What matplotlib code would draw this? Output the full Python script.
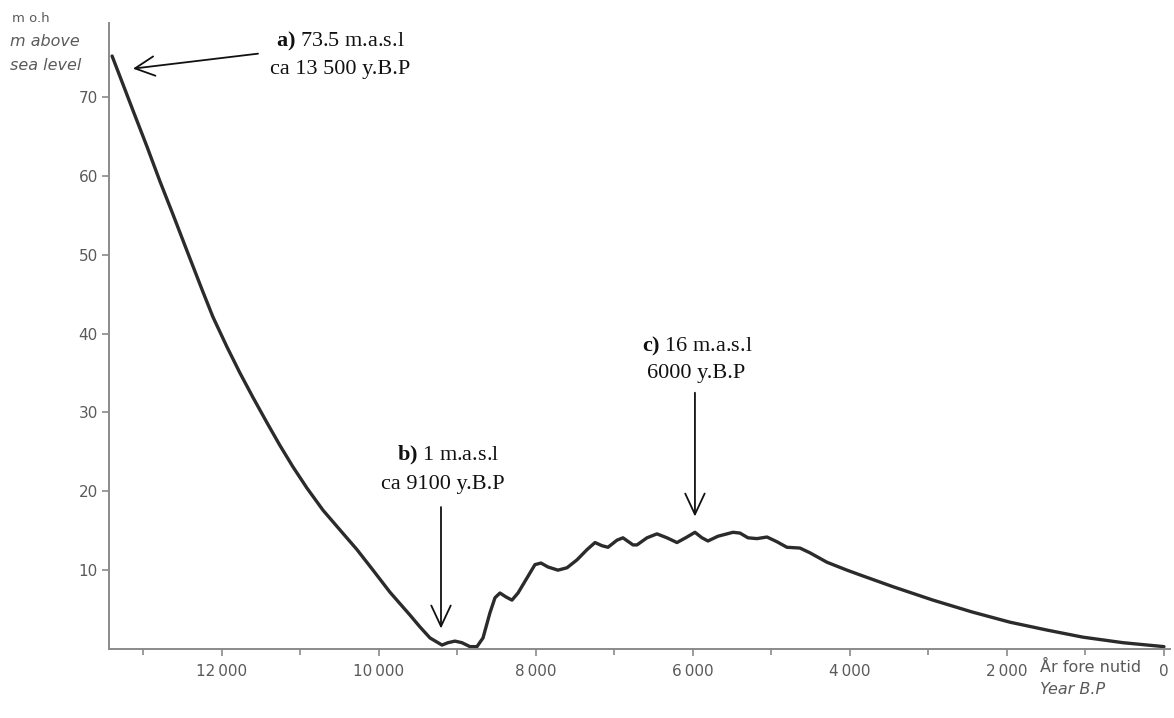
import numpy as np
import matplotlib
matplotlib.use("Agg")
import matplotlib.pyplot as plt
from matplotlib.ticker import MultipleLocator, FixedLocator

plt.rcParams['mathtext.fontset'] = 'custom'
plt.rcParams['mathtext.rm'] = 'Liberation Serif'
plt.rcParams['mathtext.bf'] = 'Liberation Serif:bold'

# shoreline curve (years before present, metres above sea level)
years = [13400, 13261, 13134, 12955, 12790, 12624, 12446, 12255, 12115, 11936,
         11771, 11605, 11427, 11261, 11096, 10917, 10713, 10497, 10280, 10076,
         9860, 9605, 9478, 9350, 9197, 9121, 9032, 8943, 8841, 8752,
         8675, 8586, 8522, 8459, 8382, 8306, 8229, 8115, 8013, 7936,
         7847, 7720, 7605, 7478, 7350, 7248, 7159, 7083, 6968, 6892,
         6764, 6713, 6586, 6459, 6331, 6204, 6076, 5975, 5885, 5809,
         5682, 5490, 5401, 5299, 5185, 5057, 4930, 4803, 4637, 4510,
         4293, 4038, 3873, 3452, 2943, 2446, 1962, 1490, 1032, 522, 0]
level = [75.2, 71.6, 68.3, 63.7, 59.3, 55.1, 50.5, 45.6, 42.1, 38.3,
         35.0, 31.9, 28.7, 25.8, 23.1, 20.4, 17.6, 15.1, 12.6, 10.0,
         7.2, 4.3, 2.8, 1.4, 0.5, 0.8, 1.0, 0.8, 0.3, 0.3,
         1.4, 4.6, 6.5, 7.1, 6.6, 6.2, 7.1, 9.0, 10.7, 10.9,
         10.4, 10.0, 10.3, 11.3, 12.6, 13.5, 13.1, 12.9, 13.8, 14.1,
         13.2, 13.2, 14.1, 14.6, 14.1, 13.5, 14.2, 14.8, 14.1, 13.7,
         14.3, 14.8, 14.7, 14.1, 14.0, 14.2, 13.6, 12.9, 12.8, 12.2,
         11.0, 10.0, 9.4, 7.9, 6.2, 4.7, 3.4, 2.4, 1.5, 0.8, 0.3]

ytick_vals = [10, 20, 30, 40, 50, 60, 70]
xtick_vals = [12000, 10000, 8000, 6000, 4000, 2000, 0]
xtick_labels = ['12\u2009000', '10\u2009000', '8\u2009000', '6\u2009000', '4\u2009000', '2\u2009000', '0']

grey = '#5a5a5a'
ink = '#111111'

fig = plt.figure(figsize=(11.74, 7.18), dpi=100)
ax = fig.add_axes([0.0928, 0.0961, 0.904, 0.872])

ax.plot(years, level, color='#2b2b2b', lw=2.4, solid_joinstyle='round',
        solid_capstyle='round', clip_on=False)

ax.set_xlim(13440, -80)
ax.set_ylim(0, 79.4)

for s in ['top', 'right']:
    ax.spines[s].set_visible(False)
for s in ['left', 'bottom']:
    ax.spines[s].set_color('#8a8a8a')
    ax.spines[s].set_linewidth(1.4)

ax.yaxis.set_major_locator(FixedLocator(ytick_vals))
ax.set_yticklabels([str(v) for v in ytick_vals])
ax.set_xticks(xtick_vals)
ax.set_xticklabels(xtick_labels)
ax.xaxis.set_minor_locator(MultipleLocator(1000))
ax.tick_params(axis='both', which='both', colors='#8a8a8a', labelcolor=grey,
               labelsize=11, direction='out', width=1.2)
ax.tick_params(axis='y', length=5, pad=3)
ax.tick_params(axis='x', which='major', length=5, pad=6)
ax.tick_params(axis='x', which='minor', length=4)

# axis captions
fig.text(12 / 1174, 1 - 18 / 718, 'm o.h', color=grey, fontsize=9.5, va='center')
fig.text(10 / 1174, 1 - 42 / 718, 'm above', color=grey, fontsize=11.5,
         style='italic', va='center')
fig.text(10 / 1174, 1 - 65 / 718, 'sea level', color=grey, fontsize=11.5,
         style='italic', va='center')
fig.text(1040 / 1174, 1 - 667 / 718, 'År fore nutid', color=grey, fontsize=11.5, va='center')
fig.text(1040 / 1174, 1 - 690 / 718, 'Year B.P', color=grey, fontsize=11.5,
         style='italic', va='center')

serif = 'Liberation Serif'
fs = 16

# a)
ax.text(10497, 77.0, r'$\mathbf{a)}$ 73.5 m.a.s.l', family=serif, fontsize=fs,
        color=ink, ha='center', va='center')
ax.text(10497, 73.5, 'ca 13 500 y.B.P', family=serif, fontsize=fs,
        color=ink, ha='center', va='center')
ax.annotate('', xy=(13134, 73.6), xytext=(11541, 75.5),
            arrowprops=dict(arrowstyle='->,head_length=0.7,head_width=0.35',
                            color=ink, lw=1.3, shrinkA=0, shrinkB=0,
                            mutation_scale=20))

# b)
ax.text(9120, 24.5, r'$\mathbf{b)}$ 1 m.a.s.l', family=serif, fontsize=fs,
        color=ink, ha='center', va='center')
ax.text(9190, 20.8, 'ca 9100 y.B.P', family=serif, fontsize=fs,
        color=ink, ha='center', va='center')
ax.annotate('', xy=(9210, 2.6), xytext=(9210, 18.0),
            arrowprops=dict(arrowstyle='->,head_length=0.75,head_width=0.35',
                            color=ink, lw=1.3, shrinkA=0, shrinkB=0,
                            mutation_scale=20))

# c)
ax.text(5940, 38.4, r'$\mathbf{c)}$ 16 m.a.s.l', family=serif, fontsize=fs,
        color=ink, ha='center', va='center')
ax.text(5960, 35.0, '6000 y.B.P', family=serif, fontsize=fs,
        color=ink, ha='center', va='center')
ax.annotate('', xy=(5975, 16.8), xytext=(5975, 32.5),
            arrowprops=dict(arrowstyle='->,head_length=0.75,head_width=0.35',
                            color=ink, lw=1.3, shrinkA=0, shrinkB=0,
                            mutation_scale=20))

fig.savefig('out.png', dpi=100)
